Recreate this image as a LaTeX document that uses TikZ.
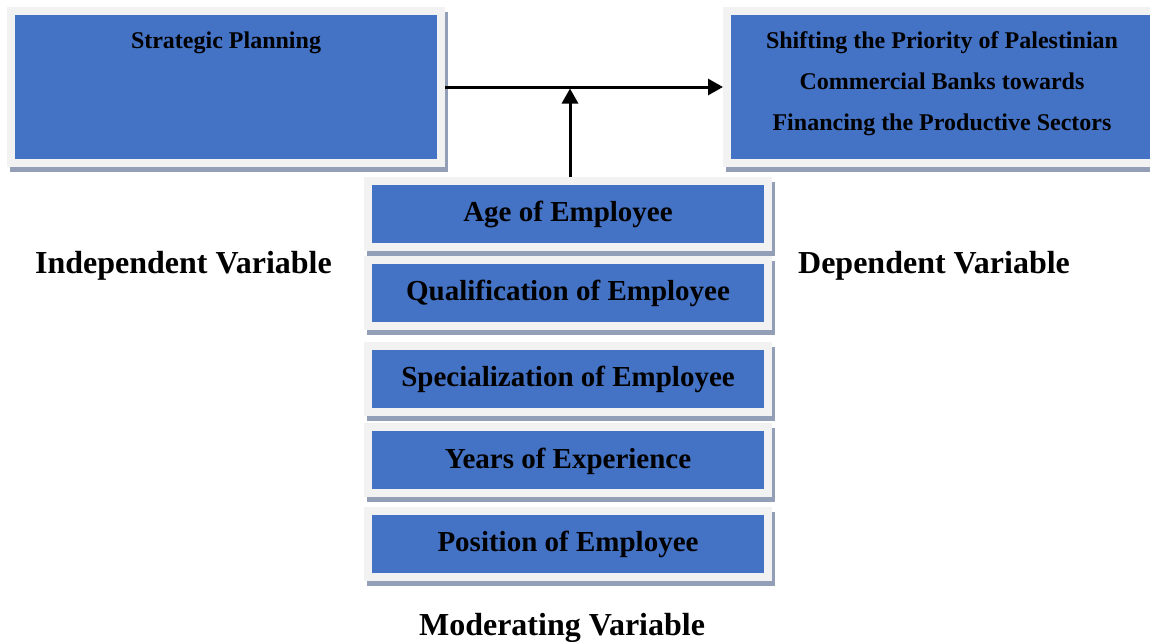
\documentclass[tikz,border=0pt]{standalone}
\usepackage{fontspec}
\setmainfont{Liberation Serif}
\definecolor{boxblue}{HTML}{4472C4}
\definecolor{framegray}{HTML}{F2F2F2}
\definecolor{shadowblue}{HTML}{929FB6}
\usetikzlibrary{arrows.meta, positioning, calc}
\tikzset{
	varbox/.style={
			rectangle,
			draw=framegray,
			line width=8pt,
			fill=boxblue,
			preaction={
					draw=shadowblue,
					fill=shadowblue,
					line width=8pt,
					transform canvas={xshift=3pt, yshift=-5pt}
				},
			align=center
		},
	mainbox/.style={
			varbox,
			minimum width=430pt,
			minimum height=152pt,
			text height=17pt,
			text depth=95pt,
			font=\fontsize{24}{41}\selectfont\bfseries
		},
	modbox/.style={
			varbox,
			minimum width=400pt,
			minimum height=66pt,
			text height=22pt,
			text depth=6pt,
			font=\fontsize{29}{35}\selectfont\bfseries
		},
	varlabel/.style={
			anchor=base,
			font=\fontsize{32}{38}\selectfont\bfseries
		},
	link/.style={
			line width=3pt,
			-{Triangle[length=15pt, width=16pt]}
		}
}

\begin{document}
\begin{tikzpicture}[x=1pt, y=-1pt]
\useasboundingbox (0,0) rectangle (1150,641);

% independent and dependent variable
\node[mainbox] (plan) at (226,87) {Strategic Planning};
\node[mainbox, text height=99pt, text depth=13pt] (shift) at (942,87) {Shifting the Priority of Palestinian\\Commercial Banks towards\\Financing the Productive Sectors};

% moderating variables
\node[modbox] (age) at (568,213.5) {Age of Employee};
\node[modbox] (qual) at (568,292.5) {Qualification of Employee};
\node[modbox] (spec) at (568,378.5) {Specialization of Employee};
\node[modbox] (years) at (568,460) {Years of Experience};
\node[modbox] (pos) at (568,543.5) {Position of Employee};

\node[varlabel] (indep) at (183.5,273) {Independent Variable};
\node[varlabel] (dep) at (934,273) {Dependent Variable};
\node[varlabel] (moder) at (562,635) {Moderating Variable};

\coordinate (join) at (570,87);
\draw[link] (plan) -- (shift);
\draw[link, shorten >=1.5pt] (age.north -| join) -- (join);
\end{tikzpicture}
\end{document}
